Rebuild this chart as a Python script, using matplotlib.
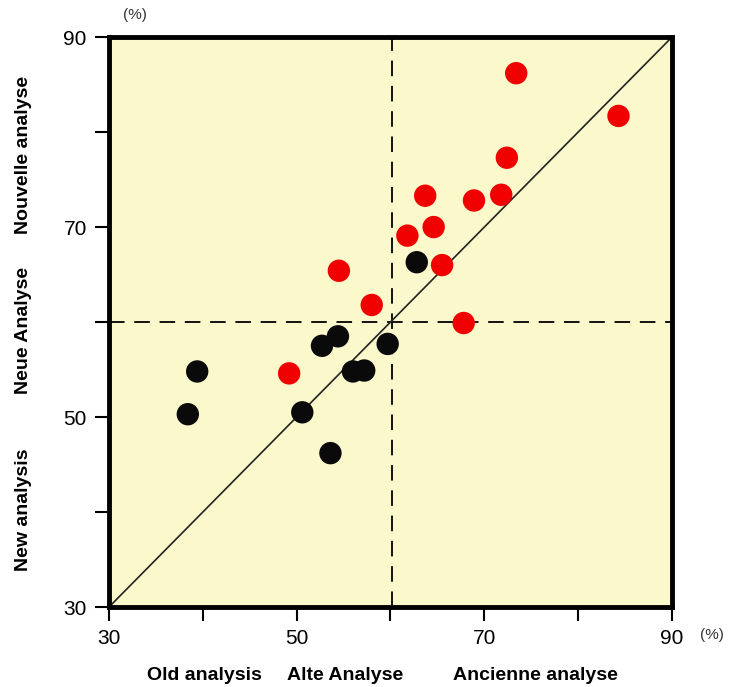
import matplotlib
matplotlib.use("Agg")
import matplotlib.pyplot as plt
from matplotlib.ticker import MultipleLocator

plt.rcParams['font.family'] = ['Liberation Sans', 'DejaVu Sans']

# old vs new analysis values (%)
red_old = [73.4, 84.3, 72.4, 63.7, 68.9, 71.8, 64.6, 61.8, 65.5, 54.5, 58.0, 67.8, 49.2]
red_new = [86.2, 81.7, 77.3, 73.3, 72.8, 73.4, 70.0, 69.1, 66.0, 65.4, 61.8, 59.9, 54.6]
black_old = [62.8, 54.4, 52.7, 59.7, 56.0, 57.2, 39.4, 38.4, 50.6, 53.6]
black_new = [66.3, 58.5, 57.5, 57.7, 54.8, 54.9, 54.8, 50.3, 50.5, 46.2]
ticks = [30, 50, 70, 90]

fig = plt.figure(figsize=(7.34, 6.87), dpi=100)
ax = fig.add_axes([0.1485, 0.1164, 0.7670, 0.8296])
ax.set_facecolor('#fbf8cb')

ax.plot([30, 90], [30, 90], color='#222222', lw=1.2, zorder=2)
ax.axvline(60.2, color='#111111', lw=1.4, ls=(0, (8, 5)), zorder=1)
ax.axhline(60, color='#111111', lw=1.4, ls=(0, (8, 5)), zorder=1)

ax.scatter(red_old, red_new, s=260, color='#f00000', edgecolors='none', zorder=3)
ax.scatter(black_old, black_new, s=260, color='#0a0a0a', edgecolors='none', zorder=3)

ax.set_xlim(30, 90)
ax.set_ylim(30, 90)
ax.set_xticks(ticks)
ax.set_yticks(ticks)
ax.xaxis.set_minor_locator(MultipleLocator(10))
ax.yaxis.set_minor_locator(MultipleLocator(10))
ax.tick_params(which='both', direction='out', length=10, width=1.5, labelsize=15, pad=6)
for s in ax.spines.values():
    s.set_linewidth(3.5)

fig.text(0.184, 0.978, '(%)', fontsize=11, ha='center', va='center', color='#333333')
fig.text(0.970, 0.075, '(%)', fontsize=11, ha='center', va='center', color='#333333')

fig.text(0.279, 0.005, 'Old analysis', fontsize=14, fontweight='bold', ha='center', va='bottom')
fig.text(0.470, 0.005, 'Alte Analyse', fontsize=14, fontweight='bold', ha='center', va='bottom')
fig.text(0.729, 0.005, 'Ancienne analyse', fontsize=14, fontweight='bold', ha='center', va='bottom')

fig.text(0.032, 1 - 510 / 687, 'New analysis', fontsize=14, fontweight='bold', rotation=90, ha='center', va='center')
fig.text(0.032, 1 - 330 / 687, 'Neue Analyse', fontsize=14, fontweight='bold', rotation=90, ha='center', va='center')
fig.text(0.032, 1 - 155 / 687, 'Nouvelle analyse', fontsize=14, fontweight='bold', rotation=90, ha='center', va='center')

fig.savefig('out.png', dpi=100, facecolor='white')
